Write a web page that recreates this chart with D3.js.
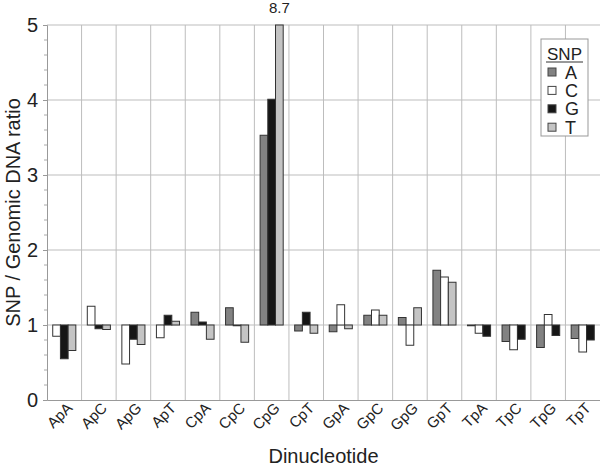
<!DOCTYPE html>
<html>
<head>
<meta charset="utf-8">
<script src="https://cdn.jsdelivr.net/npm/d3@7/dist/d3.min.js"></script>
<style>
  body { margin: 0; background: #fff; }
  text { font-family: "Liberation Sans", Arial, sans-serif; fill: #222; }
</style>
</head>
<body>
<div id="graphic"></div>
<script>
// dinucleotides along the x axis
var categories = ["ApA", "ApC", "ApG", "ApT", "CpA", "CpC", "CpG", "CpT",
                  "GpA", "GpC", "GpG", "GpT", "TpA", "TpC", "TpG", "TpT"]

var snps = ["A", "C", "G", "T"]

// SNP / genomic ratio for each substituted base (null = not present)
var valuesA = [null, null, null, null, 1.17, 1.23, 3.53, 0.92, 0.91, 1.13, 1.10, 1.73, 0.99, 0.78, 0.70, 0.82]
var valuesC = [0.85, 1.25, 0.48, 0.83, null, null, null, null, 1.27, 1.20, 0.73, 1.64, 0.89, 0.67, 1.14, 0.64]
var valuesG = [0.55, 0.95, 0.81, 1.13, 1.04, 0.99, 4.01, 1.17, null, null, null, null, 0.85, 0.81, 0.86, 0.80]
var valuesT = [0.66, 0.94, 0.74, 1.05, 0.81, 0.77, 8.70, 0.89, 0.95, 1.13, 1.23, 1.57, null, null, null, null]

var yTicks = [0, 1, 2, 3, 4, 5]

;(function () {

  var margin = { top: 25, right: 0, bottom: 69, left: 47 }

  var width = 600 - margin.left - margin.right,
      height = 469 - margin.top - margin.bottom

  var svg = d3.select("#graphic").append("svg")
      .attr("width", width + margin.left + margin.right)
      .attr("height", height + margin.top + margin.bottom)
      .append("g")
      .attr("transform", "translate(" + margin.left + "," + margin.top + ")")

  var colors = { A: "#828282", C: "#ffffff", G: "#161616", T: "#c4c4c4" }
  var seriesValues = { A: valuesA, C: valuesC, G: valuesG, T: valuesT }

  var xPositionScale = d3.scaleBand()
    .domain(categories)
    .range([0, width])
    .padding(0)

  var yPositionScale = d3.scaleLinear()
    .domain([0, 5])
    .range([height, 0])

  // three bars per group, packed next to each other
  var barWidth = 7.7
  var groupOffset = (xPositionScale.bandwidth() - barWidth * 3) / 2

  var bars = []
  categories.forEach(function (cat, i) {
    var slot = 0
    snps.forEach(function (s) {
      var v = seriesValues[s][i]
      if (v === null) return
      bars.push({ cat: cat, snp: s, value: v, slot: slot })
      slot++
    })
  })

  // grid lines
  svg.selectAll(".hgrid")
    .data(yTicks.filter(function (d) { return d > 0 }))
    .enter().append("line")
    .attr("x1", 0)
    .attr("x2", width)
    .attr("y1", function (d) { return yPositionScale(d) })
    .attr("y2", function (d) { return yPositionScale(d) })
    .attr("stroke", "#bdbdbd")
    .attr("stroke-width", 1)

  svg.selectAll(".vgrid")
    .data(categories.slice(1))
    .enter().append("line")
    .attr("x1", function (d) { return xPositionScale(d) })
    .attr("x2", function (d) { return xPositionScale(d) })
    .attr("y1", 0)
    .attr("y2", height)
    .attr("stroke", "#bdbdbd")
    .attr("stroke-width", 1)

  // bars start at ratio 1
  var yMax = yPositionScale.domain()[1]
  svg.selectAll(".bar")
    .data(bars)
    .enter().append("rect")
    .attr("x", function (d) { return xPositionScale(d.cat) + groupOffset + d.slot * barWidth })
    .attr("width", barWidth)
    .attr("y", function (d) { return yPositionScale(Math.min(Math.max(d.value, 1), yMax)) })
    .attr("height", function (d) {
      return Math.abs(yPositionScale(1) - yPositionScale(Math.min(d.value, yMax)))
    })
    .attr("fill", function (d) { return colors[d.snp] })
    .attr("stroke", "#333")
    .attr("stroke-width", 1)

  // value label for the clipped bar
  svg.selectAll(".overflow")
    .data(bars.filter(function (d) { return d.value > yMax }))
    .enter().append("text")
    .attr("x", function (d) { return xPositionScale(d.cat) + groupOffset + (d.slot + 0.5) * barWidth })
    .attr("y", -12)
    .attr("text-anchor", "middle")
    .attr("font-size", 15)
    .text(function (d) { return d.value.toFixed(1) })

  // Draw axes
  var yAxis = d3.axisLeft(yPositionScale)
    .tickValues(yTicks)
    .tickFormat(d3.format("d"))
    .tickSize(4)
    .tickPadding(5)
  var yAxisG = svg.append("g")
    .attr("class", "axis y-axis")
    .call(yAxis)
  yAxisG.selectAll("path, line").attr("stroke", "#999")
  yAxisG.selectAll("text").attr("font-size", 20).attr("fill", "#222")
    .attr("font-family", "Liberation Sans, Arial, sans-serif")

  var minor = d3.range(0, 5.01, 0.2).filter(function (d) { return Math.abs(d - Math.round(d)) > 0.01 })
  yAxisG.selectAll(".minor")
    .data(minor)
    .enter().append("line")
    .attr("x1", -3)
    .attr("x2", 0)
    .attr("y1", function (d) { return yPositionScale(d) })
    .attr("y2", function (d) { return yPositionScale(d) })
    .attr("stroke", "#aaa")

  var xAxis = d3.axisBottom(xPositionScale).tickSize(0).tickSizeOuter(0).tickFormat("")
  var xAxisG = svg.append("g")
    .attr("class", "axis x-axis")
    .attr("transform", "translate(0," + height + ")")
    .call(xAxis)
  xAxisG.select(".domain").attr("stroke", "#999")

  // rotated category labels
  var labelG = svg.selectAll(".xlabel")
    .data(categories)
    .enter().append("g")
    .attr("class", "xlabel")
    .attr("transform", function (d) {
      var x = xPositionScale(d) + xPositionScale.bandwidth() / 2 + 9
      return "translate(" + x + "," + (height + 9) + ")"
    })

  labelG.append("text")
    .attr("transform", "rotate(-45)")
    .style("text-anchor", "end")
    .style("font-size", "15px")
    .text(function (d) { return d })

  // axis titles
  svg.append("text")
    .attr("transform", "translate(" + (-27) + "," + (height / 2) + ") rotate(-90)")
    .attr("text-anchor", "middle")
    .attr("font-size", 20)
    .text("SNP / Genomic DNA ratio")

  svg.append("text")
    .attr("x", width / 2)
    .attr("y", height + 63)
    .attr("text-anchor", "middle")
    .attr("font-size", 20)
    .text("Dinucleotide")

  // legend
  var legend = svg.append("g")
    .attr("transform", "translate(" + (541 - margin.left) + "," + (39 - margin.top) + ")")

  legend.append("rect")
    .attr("width", 47)
    .attr("height", 97)
    .attr("fill", "#fff")
    .attr("stroke", "#999")

  legend.append("text")
    .attr("x", 23.5)
    .attr("y", 21)
    .attr("text-anchor", "middle")
    .attr("font-size", 17)
    .text("SNP")

  legend.append("line")
    .attr("x1", 5)
    .attr("x2", 42)
    .attr("y1", 23)
    .attr("y2", 23)
    .attr("stroke", "#333")

  var items = legend.selectAll(".item")
    .data(snps)
    .enter().append("g")
    .attr("transform", function (d, i) { return "translate(7," + (33 + i * 18.4) + ")" })

  items.append("rect")
    .attr("x", 0)
    .attr("y", -4)
    .attr("width", 8)
    .attr("height", 8)
    .attr("fill", function (d) { return colors[d] })
    .attr("stroke", "#444")

  items.append("text")
    .attr("x", 17)
    .attr("y", 6.5)
    .attr("font-size", 18)
    .text(function (d) { return d })

})()
</script>
</body>
</html>
